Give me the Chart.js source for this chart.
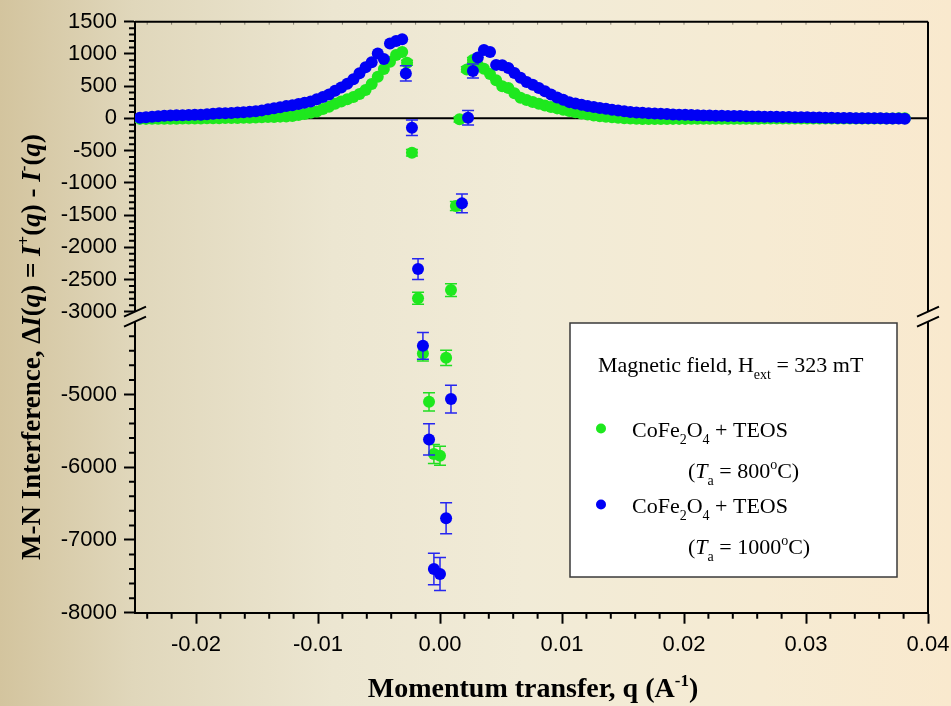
<!DOCTYPE html>
<html>
<head>
<meta charset="utf-8">
<title>M-N Interference</title>
<script src="https://cdn.jsdelivr.net/npm/chart.js@4.4.1/dist/chart.umd.min.js"></script>
<style>
  html, body { margin: 0; padding: 0; }
  body {
    width: 951px; height: 706px; overflow: hidden;
    background: linear-gradient(to right, #d3c49e 0%, #e0d7bb 14%, #ece6d1 35%, #f1ebd7 55%, #f6ebd3 80%, #f9e9ce 100%);
  }
  #wrap { position: relative; width: 951px; height: 706px; }
</style>
</head>
<body>
<div id="wrap"><canvas id="mnChart" width="951" height="706"></canvas></div>
<script>
/* ----------------------------------------------------------------------------
   M-N interference  dI(q) = I+(q) - I-(q), CoFe2O4 + TEOS, Hext = 323 mT
   - broken y axis (two stacked linear scales with a spacer in between)
   - error bars, minor ticks, axis breaks and legend drawn by small plugins
   ---------------------------------------------------------------------------- */

// ---- tick labels ----
const xTicks    = [-0.02, -0.01, 0.00, 0.01, 0.02, 0.03, 0.04];
const yTopTicks = [1500, 1000, 500, 0, -500, -1000, -1500, -2000, -2500, -3000];
const yBotTicks = [-5000, -6000, -7000, -8000];

// ---- low-q branch (q < 0) ----
const qLeft = [-0.0246, -0.0241, -0.0236, -0.0231, -0.0226, -0.0221, -0.0216, -0.0211, -0.0206, -0.0201,
               -0.0196, -0.0191, -0.0186, -0.0181, -0.0176, -0.0171, -0.0166, -0.0161, -0.0156, -0.0151,
               -0.0146, -0.0141, -0.0136, -0.0131, -0.0126, -0.0121, -0.0116, -0.0111, -0.0106, -0.0101,
               -0.0096, -0.0091, -0.0086, -0.0081, -0.0076, -0.0071, -0.0066, -0.0061, -0.0056, -0.0051,
               -0.0046, -0.0041, -0.0036, -0.0031];
const greenLeft = [-8, -8, -7, -6, -6, -5, -5, -4, -4, -3,
                   -2, 0, 1, 2, 4, 5, 7, 9, 11, 14,
                   17, 20, 23, 27, 30, 38, 52, 68, 88, 108,
                   145, 182, 228, 262, 298, 330, 378, 440, 535, 645,
                   765, 880, 985, 1030];
const blueLeft  = [10, 18, 25, 34, 42, 46, 48, 50, 52, 55,
                   57, 62, 70, 78, 80, 82, 90, 96, 104, 112,
                   124, 142, 158, 174, 190, 204, 224, 242, 262, 295,
                   330, 372, 430, 478, 536, 606, 700, 795, 870, 1005,
                   920, 1160, 1200, 1228];

// ---- central dip, with error bars ----
const qCoreGreen   = [-0.0027, -0.0023, -0.0018, -0.0014, -0.0009, -0.0005, 0.0000, 0.0005, 0.0009, 0.0013, 0.0016, 0.0022, 0.0027];
const greenCore    = [863, -534, -2790, -4436, -5101, -5819, -5843, -4496, -2665, -1361, -15, 760, 905];
const greenCoreErr = [40, 50, 93, 105, 126, 130, 130, 105, 100, 70, 40, 40, 40];

const qCoreBlue    = [-0.0028, -0.0023, -0.0018, -0.0014, -0.0009, -0.0005, 0.0000, 0.0005, 0.0009, 0.0018, 0.0023, 0.0027];
const blueCore     = [698, -146, -2339, -4332, -5618, -7400, -7468, -6703, -5064, -1319, 10, 735];
const blueCoreErr  = [120, 119, 160, 185, 215, 217, 227, 213, 190, 147, 111, 110];

// ---- high-q branch (q > 0) ----
const qRight = [0.0031, 0.0036, 0.0041, 0.0046, 0.0051, 0.0056, 0.0061, 0.0066, 0.0071, 0.0076,
                0.0081, 0.0086, 0.0091, 0.0096, 0.0101, 0.0106, 0.0111, 0.0116, 0.0121, 0.0126,
                0.0131, 0.0136, 0.0141, 0.0146, 0.0151, 0.0156, 0.0161, 0.0166, 0.0171, 0.0176,
                0.0181, 0.0186, 0.0191, 0.0196, 0.0201, 0.0206, 0.0211, 0.0216, 0.0221, 0.0226,
                0.0231, 0.0236, 0.0241, 0.0246, 0.0251, 0.0256, 0.0261, 0.0266, 0.0271, 0.0276,
                0.0281, 0.0286, 0.0291, 0.0296, 0.0301, 0.0306, 0.0311, 0.0316, 0.0321, 0.0326,
                0.0331, 0.0336, 0.0341, 0.0346, 0.0351, 0.0356, 0.0361, 0.0366, 0.0371, 0.0376,
                0.0381];
const greenRight = [830, 770, 690, 590, 500, 470, 390, 320, 285, 255,
                    225, 200, 178, 155, 135, 115, 95, 76, 60, 46,
                    33, 24, 16, 9, 3, -3, -7, -9, -10, -10,
                    -9, -9, -8, -8, -8, -7, -7, -7, -6, -6,
                    -6, -6, -5, -5, -5, -5, -5, -4, -4, -4,
                    -4, -4, -3, -3, -3, -3, -3, -3, -2, -2,
                    -2, -2, -2, -2, -1, -1, -1, -1, -1, 0,
                    0];
const blueRight  = [945, 1060, 1030, 830, 825, 780, 705, 630, 565, 520,
                    470, 420, 370, 325, 290, 252, 232, 210, 190, 175,
                    160, 150, 135, 122, 112, 100, 92, 86, 80, 77,
                    72, 66, 61, 58, 55, 52, 48, 46, 44, 42,
                    40, 38, 36, 35, 32, 30, 28, 26, 25, 24,
                    22, 20, 18, 17, 16, 14, 12, 10, 8, 6,
                    5, 4, 3, 2, 1, 0, 0, -2, -3, -4,
                    -5];

const GREEN = '#1ee81e';
const BLUE  = '#0000f5';
const SERIF = '"Liberation Serif", "Times New Roman", serif';
const SANS  = '"Liberation Sans", Arial, sans-serif';
const SPLIT = -3500;   // values below go on the lower axis segment

const toPoints = (qs, vals, errs) => qs.map((q, i) => ({ x: q, y: vals[i], err: errs ? errs[i] : 0 }));

const greenPts = [...toPoints(qLeft, greenLeft), ...toPoints(qCoreGreen, greenCore, greenCoreErr), ...toPoints(qRight, greenRight)];
const bluePts  = [...toPoints(qLeft, blueLeft),  ...toPoints(qCoreBlue, blueCore, blueCoreErr),   ...toPoints(qRight, blueRight)];

function series(label, pts, color, errColor, axis, order) {
    return {
        label, data: pts, yAxisID: axis, order, errColor,
        backgroundColor: color, borderColor: color,
        pointRadius: 6, pointHoverRadius: 6, pointBorderWidth: 0, showLine: false
    };
}

// draws text made of runs: [text, flags]  b=bold i=italic ^=sup _=sub
function drawRuns(ctx, runs, x, y, size, family, align) {
    const parts = runs.map(([text, f = '']) => {
        const small = f.includes('^') || f.includes('_');
        const px = small ? Math.round(size * 0.62) : size;
        const font = `${f.includes('i') ? 'italic ' : ''}${f.includes('b') ? 'bold ' : ''}${px}px ${family}`;
        ctx.font = font;
        const dy = f.includes('^') ? -size * 0.4 : (f.includes('_') ? size * 0.33 : 0);
        return { text, font, dy, w: ctx.measureText(text).width };
    });
    const total = parts.reduce((s, p) => s + p.w, 0);
    let cx = align === 'center' ? x - total / 2 : x;
    ctx.textAlign = 'left';
    ctx.textBaseline = 'alphabetic';
    for (const p of parts) {
        ctx.font = p.font;
        ctx.fillText(p.text, cx, y + p.dy);
        cx += p.w;
    }
}

// error bars, drawn just before the markers of their own dataset
const errorBars = {
    id: 'errorBars',
    beforeDatasetDraw(chart, args) {
        const ds = chart.data.datasets[args.index];
        const yScale = chart.scales[ds.yAxisID];
        const ctx = chart.ctx;
        ctx.save();
        ctx.strokeStyle = ds.errColor;
        ctx.lineWidth = 1.5;
        args.meta.data.forEach((pt, i) => {
            const p = ds.data[i];
            if (!p.err) return;
            const hi = yScale.getPixelForValue(p.y + p.err);
            const lo = yScale.getPixelForValue(p.y - p.err);
            ctx.beginPath();
            ctx.moveTo(pt.x, hi); ctx.lineTo(pt.x, lo);
            ctx.moveTo(pt.x - 6, hi); ctx.lineTo(pt.x + 6, hi);
            ctx.moveTo(pt.x - 6, lo); ctx.lineTo(pt.x + 6, lo);
            ctx.stroke();
        });
        ctx.restore();
    }
};

// frame, zero line, minor ticks, axis breaks, titles, legend
const decorations = {
    id: 'decorations',
    beforeDatasetsDraw(chart) {
        const { ctx, chartArea: a } = chart;
        const y0 = chart.scales.yTop.getPixelForValue(0);
        ctx.save();
        ctx.strokeStyle = '#000';
        ctx.lineWidth = 2;
        ctx.beginPath();
        ctx.moveTo(a.left, y0); ctx.lineTo(a.right, y0);
        ctx.stroke();
        ctx.restore();
    },
    afterDraw(chart) {
        const { ctx, chartArea: a, scales } = chart;
        const { x, yTop, yBot } = scales;
        ctx.save();
        ctx.strokeStyle = '#000';
        ctx.fillStyle = '#000';

        // top and right borders
        ctx.lineWidth = 2;
        ctx.beginPath();
        ctx.moveTo(a.left, a.top); ctx.lineTo(a.right, a.top);
        ctx.moveTo(a.right, a.top); ctx.lineTo(a.right, yTop.bottom);
        ctx.moveTo(a.right, yBot.top); ctx.lineTo(a.right, yBot.bottom);
        ctx.stroke();

        // minor ticks
        ctx.lineWidth = 2;
        ctx.beginPath();
        for (let v = -3000; v <= 1500; v += 100) {
            if (v % 500 === 0) continue;
            const py = yTop.getPixelForValue(v);
            ctx.moveTo(a.left - 6, py); ctx.lineTo(a.left, py);
        }
        for (let v = -7800; v < -4000; v += 200) {
            if (v % 1000 === 0) continue;
            const py = yBot.getPixelForValue(v);
            ctx.moveTo(a.left - 6, py); ctx.lineTo(a.left, py);
        }
        for (let i = -12; i <= 20; i++) {
            if (i % 5 === 0) continue;
            const px = x.getPixelForValue(i * 0.002);
            if (px < a.left) continue;
            ctx.moveTo(px, a.bottom); ctx.lineTo(px, a.bottom + 6);
        }
        ctx.stroke();

        // small ticks along the top border
        ctx.lineWidth = 1;
        ctx.strokeStyle = 'rgba(0,0,0,0.45)';
        ctx.beginPath();
        for (let i = -12; i <= 20; i++) {
            const px = x.getPixelForValue(i * 0.002);
            if (px <= a.left) continue;
            ctx.moveTo(px, a.top); ctx.lineTo(px, a.top + 3);
        }
        ctx.stroke();

        // axis breaks
        ctx.strokeStyle = '#000';
        ctx.lineWidth = 2;
        ctx.beginPath();
        for (const bx of [a.left, a.right]) {
            for (const by of [yTop.bottom, yBot.top]) {
                ctx.moveTo(bx - 11, by + 5); ctx.lineTo(bx + 11, by - 5);
            }
        }
        ctx.stroke();

        // axis titles
        ctx.fillStyle = '#000';
        drawRuns(ctx, [['Momentum transfer, q (A', 'b'], ['-1', 'b^'], [')', 'b']], 533, 697, 28, SERIF, 'center');
        ctx.save();
        ctx.translate(40, 347);
        ctx.rotate(-Math.PI / 2);
        drawRuns(ctx, [
            ['M-N Interference, \u0394', 'b'], ['I', 'bi'], ['(', 'b'], ['q', 'bi'], [') = ', 'b'],
            ['I', 'bi'], ['+', 'b^'], ['(', 'b'], ['q', 'bi'], [') - ', 'b'],
            ['I', 'bi'], ['-', 'b^'], ['(', 'b'], ['q', 'bi'], [')', 'b']
        ], 0, 0, 27, SERIF, 'center');
        ctx.restore();

        // legend box
        ctx.fillStyle = '#ffffff';
        ctx.fillRect(570, 323, 327, 254);
        ctx.strokeStyle = '#3a3a3a';
        ctx.lineWidth = 1.5;
        ctx.strokeRect(570, 323, 327, 254);
        ctx.fillStyle = '#000';
        drawRuns(ctx, [['Magnetic field, H'], ['ext', '_'], [' = 323 mT']], 598, 372, 22, SERIF, 'left');
        const entries = [
            { color: GREEN, y: 437, temp: '800' },
            { color: BLUE,  y: 513, temp: '1000' }
        ];
        for (const e of entries) {
            ctx.fillStyle = e.color;
            ctx.beginPath();
            ctx.arc(601, e.y - 8.5, 5, 0, Math.PI * 2);
            ctx.fill();
            ctx.fillStyle = '#000';
            drawRuns(ctx, [['CoFe'], ['2', '_'], ['O'], ['4', '_'], [' + TEOS']], 632, e.y, 22, SERIF, 'left');
            drawRuns(ctx, [['('], ['T', 'i'], ['a', '_'], [' = ' + e.temp], ['o', '^'], ['C)']], 688, e.y + 41, 22, SERIF, 'left');
        }
        ctx.restore();
    }
};

const axisFont = { family: SANS, size: 22 };
const tickGrid = { drawOnChartArea: false, tickLength: 11, tickWidth: 2, tickColor: '#000' };

new Chart(document.getElementById('mnChart'), {
    type: 'scatter',
    data: {
        datasets: [
            series('CoFe2O4 + TEOS (Ta = 1000 C)', bluePts.filter(p => p.y > SPLIT),  BLUE,  '#2626f0', 'yTop', 1),
            series('CoFe2O4 + TEOS (Ta = 1000 C)', bluePts.filter(p => p.y <= SPLIT), BLUE,  '#2626f0', 'yBot', 1),
            series('CoFe2O4 + TEOS (Ta = 800 C)',  greenPts.filter(p => p.y > SPLIT),  GREEN, '#22dd22', 'yTop', 2),
            series('CoFe2O4 + TEOS (Ta = 800 C)',  greenPts.filter(p => p.y <= SPLIT), GREEN, '#22dd22', 'yBot', 2)
        ]
    },
    options: {
        responsive: false,
        animation: false,
        devicePixelRatio: 1,
        events: [],
        layout: { padding: { top: 21.7, right: 23, bottom: 0, left: 0 } },
        plugins: { legend: { display: false }, tooltip: { enabled: false } },
        scales: {
            x: {
                type: 'linear', position: 'bottom', min: -0.025, max: 0.04,
                afterBuildTicks: s => { s.ticks = xTicks.map(v => ({ value: v })); },
                afterFit: s => { s.height = 93.3; s.paddingLeft = 0; s.paddingRight = 0; },
                border: { color: '#000', width: 2 },
                grid: tickGrid,
                ticks: { autoSkip: false, maxRotation: 0, padding: 8, color: '#000', font: axisFont,
                         callback: v => v.toFixed(2) }
            },
            yTop: {
                type: 'linear', position: 'left', stack: 'dI', stackWeight: 290, weight: 3,
                min: -3000, max: 1500,
                afterBuildTicks: s => { s.ticks = yTopTicks.map(v => ({ value: v })); },
                afterFit: s => { s.width = 135; },
                border: { color: '#000', width: 2 },
                grid: tickGrid,
                ticks: { autoSkip: false, padding: 7, color: '#000', font: axisFont, callback: v => String(v) }
            },
            yGap: {
                type: 'linear', position: 'left', stack: 'dI', stackWeight: 10, weight: 2,
                display: false, min: 0, max: 1
            },
            yBot: {
                type: 'linear', position: 'left', stack: 'dI', stackWeight: 291, weight: 1,
                min: -8000, max: -4000,
                afterBuildTicks: s => { s.ticks = yBotTicks.map(v => ({ value: v })); },
                afterFit: s => { s.width = 135; },
                border: { color: '#000', width: 2 },
                grid: tickGrid,
                ticks: { autoSkip: false, padding: 7, color: '#000', font: axisFont, callback: v => String(v) }
            }
        }
    },
    plugins: [errorBars, decorations]
});
</script>
</body>
</html>
